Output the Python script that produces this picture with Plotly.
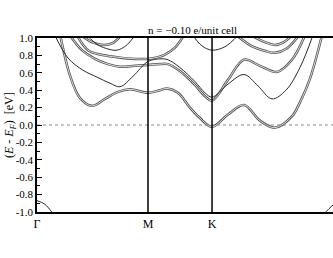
import plotly.graph_objects as go

# ---- data -------------------------------------------------------------
K_POINTS = [0.0, 1.0, 1.577]          # Γ, M, K positions along the path
K_LABELS = ["Γ", "M", "K"]
K_END = 2.732                         # returning Γ (outside visible window)
X_VIEW = [0.0, 2.667]
E_FERMI = 0.0

Y_TICKS = [1.0, 0.8, 0.6, 0.4, 0.2, 0.0, -0.2, -0.4, -0.6, -0.8, -1.0]
Y_TICK_LABELS = ["1.0", "0.8", "0.6", "0.4", "0.2", "0.0", "-0.2", "-0.4", "-0.6", "-0.8", "-1.0"]

# doubled (nearly degenerate) bands
s1_k = [0.21, 0.297, 0.387, 0.495, 0.613, 0.730, 0.838, 1.0, 1.108, 1.171, 1.270, 1.378, 1.468,
        1.577, 1.721, 1.865, 2.009, 2.144, 2.297, 2.369, 2.459, 2.568]
s1_e = [1.03, 0.57, 0.31, 0.22, 0.30, 0.38, 0.41, 0.37, 0.40, 0.42, 0.37, 0.20, 0.08,
        -0.02, 0.12, 0.23, 0.05, -0.03, 0.10, 0.26, 0.53, 1.03]

s3_k = [0.297, 0.405, 0.523, 0.640, 0.748, 0.883, 1.0, 1.108, 1.180, 1.288, 1.423, 1.514,
        1.577, 1.721, 1.865, 2.009, 2.162, 2.297, 2.414]
s3_e = [1.03, 0.86, 0.76, 0.70, 0.67, 0.68, 0.69, 0.70, 0.70, 0.62, 0.46, 0.33,
        0.28, 0.52, 0.75, 0.68, 0.61, 0.75, 1.03]

s4_k = [0.36, 0.459, 0.568, 0.721, 0.883, 1.0, 1.090, 1.153, 1.243, 1.324]
s4_e = [1.03, 0.86, 0.81, 0.78, 0.76, 0.76, 0.78, 0.81, 0.89, 1.03]

s6_k = [0.40, 0.50, 0.60, 0.68, 0.76]
s6_e = [1.03, 0.95, 0.92, 0.94, 1.03]

u1_k = [1.80, 1.93, 2.06, 2.144, 2.25, 2.36]
u1_e = [1.03, 0.91, 0.85, 0.83, 0.88, 1.03]

u2_k = [1.93, 2.06, 2.144, 2.22, 2.30]
u2_e = [1.03, 0.95, 0.92, 0.95, 1.03]

# single bands
s2_k = [0.162, 0.279, 0.414, 0.541, 0.658, 0.748, 0.865, 1.0, 1.108, 1.180, 1.288, 1.423,
        1.514, 1.577, 1.721, 1.865, 1.991, 2.117, 2.243, 2.369, 2.486]
s2_e = [1.03, 0.77, 0.63, 0.55, 0.48, 0.44, 0.56, 0.73, 0.76, 0.75, 0.66, 0.50,
        0.37, 0.32, 0.47, 0.58, 0.45, 0.30, 0.40, 0.66, 1.03]

s5_k = [0.45, 0.55, 0.65, 0.72, 0.80, 0.883]
s5_e = [1.03, 0.92, 0.87, 0.86, 0.91, 1.03]

l7_k = [1.405, 1.486, 1.577, 1.694, 1.811]
l7_e = [1.03, 0.91, 0.86, 0.90, 1.03]

l0a_k = [0.0, 0.07, 0.15]
l0a_e = [-0.87, -0.91, -1.03]
l0b_k = [2.58, 2.667, 2.732]
l0b_e = [-1.03, -0.92, -0.87]

DOUBLE_BANDS = [(s1_k, s1_e), (s3_k, s3_e), (s4_k, s4_e), (s6_k, s6_e), (u1_k, u1_e), (u2_k, u2_e)]
SINGLE_BANDS = [(s2_k, s2_e), (s5_k, s5_e), (l7_k, l7_e), (l0a_k, l0a_e), (l0b_k, l0b_e)]

# ---- figure -----------------------------------------------------------
SERIF = "Liberation Serif, Times New Roman, serif"
fig = go.Figure()

for k, e in DOUBLE_BANDS:
    fig.add_trace(go.Scatter(x=k, y=e, mode="lines", line=dict(color="#555", width=2.5, shape="spline"),
                             hoverinfo="skip", showlegend=False))
    fig.add_trace(go.Scatter(x=k, y=e, mode="lines", line=dict(color="white", width=0.8, shape="spline"),
                             hoverinfo="skip", showlegend=False))

for k, e in SINGLE_BANDS:
    fig.add_trace(go.Scatter(x=k, y=e, mode="lines", line=dict(color="#2a2a2a", width=1.0, shape="spline"),
                             hoverinfo="skip", showlegend=False))

# Fermi level
fig.add_trace(go.Scatter(x=[K_POINTS[0], K_END], y=[E_FERMI, E_FERMI], mode="lines",
                         line=dict(color="#888", width=1, dash="dot"), hoverinfo="skip", showlegend=False))

# high-symmetry vertical lines
for kp in K_POINTS[1:]:
    fig.add_shape(type="line", x0=kp, x1=kp, y0=0, y1=1, xref="x", yref="paper",
                  line=dict(color="black", width=1.5))

fig.update_layout(
    width=333, height=258,
    margin=dict(l=37, r=0, t=38, b=46),
    paper_bgcolor="white", plot_bgcolor="white",
    font=dict(family=SERIF, size=11, color="black"),
    showlegend=False,
)
fig.update_xaxes(range=X_VIEW, tickvals=K_POINTS, ticktext=K_LABELS, ticks="",
                 showline=True, mirror=True, linecolor="black", linewidth=1.5,
                 showgrid=False, zeroline=False, tickfont=dict(family=SERIF, size=12))
fig.update_yaxes(range=[-1.0, 1.0], tickvals=Y_TICKS, ticktext=Y_TICK_LABELS,
                 ticks="inside", ticklen=5, tickwidth=1, tickcolor="black",
                 minor=dict(ticks="inside", ticklen=3, dtick=0.1, tick0=0, tickcolor="black"),
                 showline=True, linecolor="black", linewidth=1.5,
                 showgrid=False, zeroline=False, tickfont=dict(family=SERIF, size=11))

fig.add_annotation(text="n = −0.10 e/unit cell", xref="paper", yref="paper", x=0.527, y=1.0,
                   xanchor="center", yanchor="bottom", yshift=0, showarrow=False,
                   font=dict(family=SERIF, size=11))
fig.add_annotation(text="(<i>E</i> - <i>E</i><sub><i>F</i></sub>)\u00a0\u00a0[eV]", xref="paper", yref="paper",
                   x=-0.091, y=0.5, xanchor="center", yanchor="middle", textangle=-90,
                   showarrow=False, font=dict(family=SERIF, size=12))

fig.write_html("out.html", config={"displayModeBar": False},
               post_script="document.body.style.margin='0';document.body.style.overflow='hidden';")
